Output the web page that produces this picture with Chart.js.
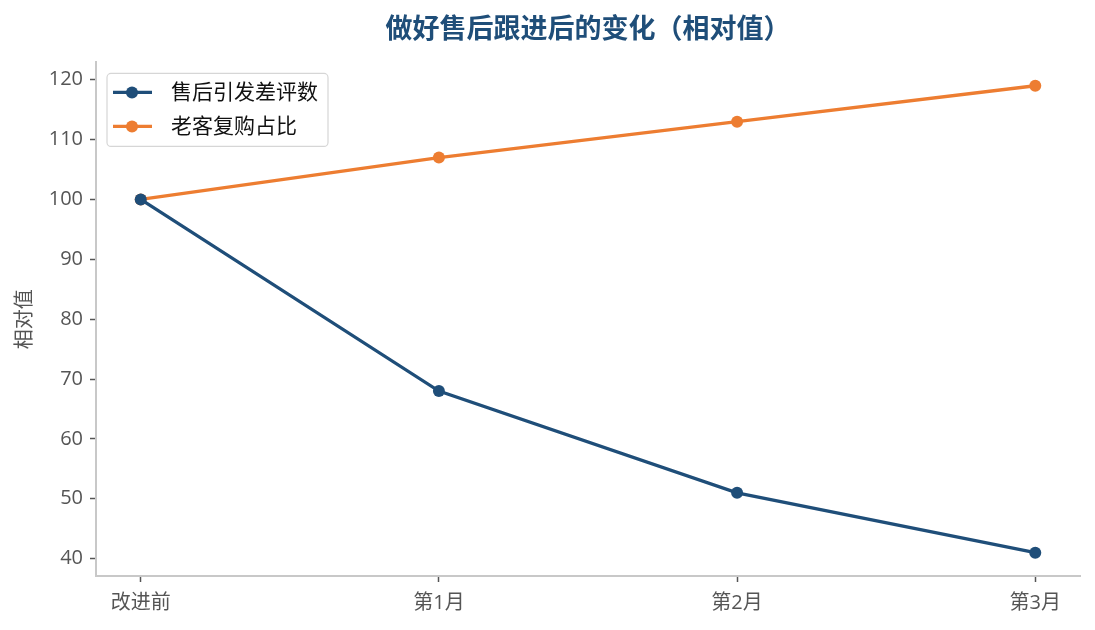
<!DOCTYPE html>
<html>
<head>
<meta charset="utf-8">
<script src="https://cdn.jsdelivr.net/npm/chart.js@4"></script>
<style>
  html, body { margin: 0; padding: 0; background: #fff; }
  #wrap { width: 1095px; height: 630px; }
</style>
</head>
<body>
<div id="wrap"><canvas id="chart"></canvas></div>
<script>
// Data
const categories = ['改进前', '第1月', '第2月', '第3月'];
const negativeReviews = [100, 68, 51, 41];
const repeatShare = [100, 107, 113, 119];
const yTicks = [40, 50, 60, 70, 80, 90, 100, 110, 120];

// Open Sans for digits, CJK glyphs fall back to Noto Sans CJK
const FONT = "'Open Sans', 'Noto Sans CJK SC', sans-serif";
const BLUE = '#1f4e79';
const ORANGE = '#ed7d31';

const toPoints = arr => arr.map((v, i) => ({ x: i, y: v }));

// legend drawn inside plot area, top-left, with rounded frame
const innerLegend = {
    id: 'innerLegend',
    afterDraw(chart) {
        const { ctx, chartArea } = chart;
        const sets = chart.data.datasets;
        const x0 = chartArea.left + 11, y0 = chartArea.top + 11;
        const rowH = 34, w = 221, h = 73;
        ctx.save();
        ctx.fillStyle = 'rgba(255,255,255,0.8)';
        ctx.strokeStyle = '#d6d6d6';
        ctx.lineWidth = 1.2;
        ctx.beginPath();
        ctx.roundRect(x0, y0, w, h, 4);
        ctx.fill();
        ctx.stroke();
        ctx.font = '21px ' + FONT;
        ctx.textBaseline = 'middle';
        sets.forEach((ds, i) => {
            const cy = y0 + 19 + i * rowH;
            ctx.strokeStyle = ds.borderColor;
            ctx.lineWidth = 3.3;
            ctx.beginPath();
            ctx.moveTo(x0 + 6, cy);
            ctx.lineTo(x0 + 45, cy);
            ctx.stroke();
            ctx.fillStyle = ds.borderColor;
            ctx.beginPath();
            ctx.arc(x0 + 25, cy, 6, 0, Math.PI * 2);
            ctx.fill();
            ctx.fillStyle = '#111';
            ctx.fillText(ds.label, x0 + 64, cy + 1);
        });
        ctx.restore();
    }
};

new Chart(document.getElementById('chart'), {
    type: 'line',
    data: {
        datasets: [
            {
                label: '售后引发差评数',
                data: toPoints(negativeReviews),
                borderColor: BLUE,
                backgroundColor: BLUE,
                borderWidth: 3.3,
                pointRadius: 6,
                pointHoverRadius: 6,
                pointBorderWidth: 0
            },
            {
                label: '老客复购占比',
                data: toPoints(repeatShare),
                borderColor: ORANGE,
                backgroundColor: ORANGE,
                borderWidth: 3.3,
                pointRadius: 6,
                pointHoverRadius: 6,
                pointBorderWidth: 0
            }
        ]
    },
    options: {
        responsive: true,
        maintainAspectRatio: false,
        animation: false,
        layout: { padding: { top: 3, right: 15, left: 0, bottom: 0 } },
        plugins: {
            legend: { display: false },
            tooltip: { enabled: false },
            title: {
                display: true,
                fullSize: false,
                text: '做好售后跟进后的变化（相对值）',
                color: BLUE,
                font: { family: "'Noto Sans CJK SC', sans-serif", size: 27, weight: 'bold' },
                padding: { top: 9, bottom: 18 }
            }
        },
        scales: {
            x: {
                type: 'linear',
                min: -0.15,
                max: 3.15,
                afterBuildTicks: scale => { scale.ticks = categories.map((_, i) => ({ value: i })); },
                afterFit: scale => { scale.height = 54; },
                grid: { drawOnChartArea: false, tickLength: 6, tickColor: '#555', tickWidth: 1.5 },
                border: { color: '#c8c8c8', width: 2 },
                ticks: {
                    color: '#555',
                    padding: 9,
                    maxRotation: 0,
                    font: { family: FONT, size: 20 },
                    callback: v => categories[v]
                }
            },
            y: {
                min: 37.1,
                max: 122.9,
                afterBuildTicks: scale => { scale.ticks = yTicks.map(v => ({ value: v })); },
                afterFit: scale => { scale.width = 96; },
                grid: { drawOnChartArea: false, tickLength: 6, tickColor: '#555', tickWidth: 1.5 },
                border: { color: '#c8c8c8', width: 2 },
                title: {
                    display: true,
                    text: '相对值',
                    color: '#555',
                    font: { family: FONT, size: 20 },
                    padding: { top: 13, bottom: 0 }
                },
                ticks: {
                    color: '#555',
                    padding: 7,
                    font: { family: FONT, size: 20 }
                }
            }
        }
    },
    plugins: [innerLegend]
});
</script>
</body>
</html>
